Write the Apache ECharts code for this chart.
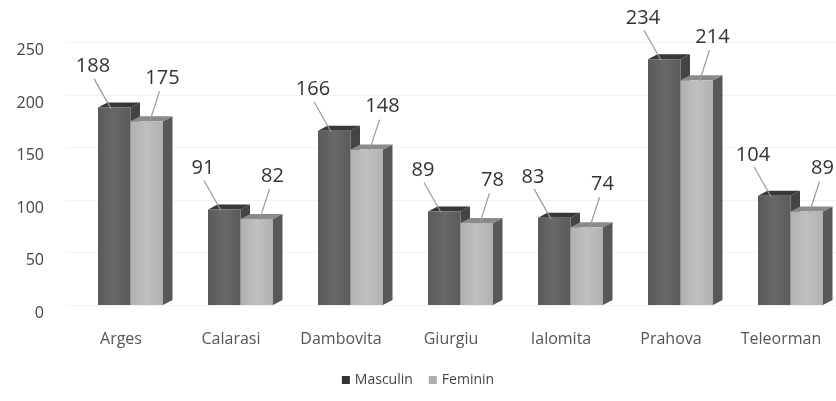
<!DOCTYPE html>
<html><head><meta charset="utf-8">
<script src="https://cdn.jsdelivr.net/npm/echarts@6/dist/echarts.min.js"></script>
<style>html,body{margin:0;padding:0;background:#fff}#c{width:836px;height:401px}</style>
</head><body><div id="c"></div>
<script>
const categories = ['Arges','Calarasi','Dambovita','Giurgiu','Ialomita','Prahova','Teleorman'];
const masculin = [188, 91, 166, 89, 83, 234, 104];
const feminin = [175, 82, 148, 78, 74, 214, 89];
const yTicks = [0, 50, 100, 150, 200, 250];

const FONT = 'Open Sans';
const styles = [
  {front:'#5a5a5a', frontHi:'#686868', top:'#383838', side:'#444444'},
  {front:'#b0b0b0', frontHi:'#c0c0c0', top:'#8a8a8a', side:'#585858'}
];

function makeRender(si){
  return function(params, api){
    const idx = api.value(0), v = api.value(1);
    const base = api.coord([idx, 0]);
    const top = api.coord([idx, v]);
    const c = base[0];
    const w = 32.5, dx = 9.5, dy = -5;
    const x0 = c - 23 + si*w, x1 = x0 + w;
    const yb = base[1], yt = top[1];
    const st = styles[si];
    const children = [
      {type:'polygon', shape:{points:[[x1,yb],[x1+dx,yb+dy],[x1+dx,yt+dy],[x1,yt]]}, style:{fill:st.side}},
      {type:'polygon', shape:{points:[[x0,yt],[x1,yt],[x1+dx,yt+dy],[x0+dx,yt+dy]]}, style:{fill:st.top}},
      {type:'rect', shape:{x:x0, y:yt, width:w, height:yb-yt}, style:{fill:{type:'linear',x:0,y:0,x2:1,y2:0,colorStops:[{offset:0,color:st.front},{offset:0.5,color:st.frontHi},{offset:1,color:st.front}]}}}
    ];
    let lx, ly, p1, p2;
    if (si === 0){ lx = x0 - 5; ly = yt - 41; p1=[lx+1, ly+12]; p2=[x0+13, yt+1]; }
    else { lx = x0 + 32; ly = yt - 43; p1=[lx-3, ly+13]; p2=[x0+19, yt+1]; }
    children.push({type:'line', shape:{x1:p1[0],y1:p1[1],x2:p2[0],y2:p2[1]}, style:{stroke:'#9a9a9a', lineWidth:1.2}});
    children.push({type:'text', x:lx, y:ly, style:{text:String(v), fill:'#333', font:'20px "'+FONT+'"', align:'center', verticalAlign:'middle'}});
    return {type:'group', children};
  };
}

const chart = echarts.init(document.getElementById('c'));
chart.setOption({
  animation:false,
  backgroundColor:'#fff',
  grid:{left:66, right:0, top:42.5, bottom:96},
  legend:{
    data:['Masculin','Feminin'], bottom:9, left:'center', itemWidth:8, itemHeight:8, itemGap:16,
    icon:'rect', textStyle:{color:'#444', fontFamily:FONT, fontSize:14}
  },
  xAxis:{
    type:'category', data:categories,
    axisLine:{show:false}, axisTick:{show:false},
    axisLabel:{color:'#555', fontFamily:FONT, fontSize:16, margin:26, interval:0, hideOverlap:false}
  },
  yAxis:{
    type:'value', min:yTicks[0], max:yTicks[yTicks.length-1], interval:50,
    axisLine:{show:false}, axisTick:{show:false},
    splitLine:{lineStyle:{color:'#f2f2f2'}},
    axisLabel:{color:'#444', fontFamily:FONT, fontSize:16, margin:22, verticalAlign:'top'}
  },
  series:[
    {name:'Masculin', type:'custom', renderItem:makeRender(0), itemStyle:{color:'#333333'}, encode:{x:0,y:1}, data:masculin.map((v,i)=>[i,v]), z:2},
    {name:'Feminin', type:'custom', renderItem:makeRender(1), itemStyle:{color:'#b0b0b0'}, encode:{x:0,y:1}, data:feminin.map((v,i)=>[i,v]), z:3}
  ]
});
</script></body></html>
